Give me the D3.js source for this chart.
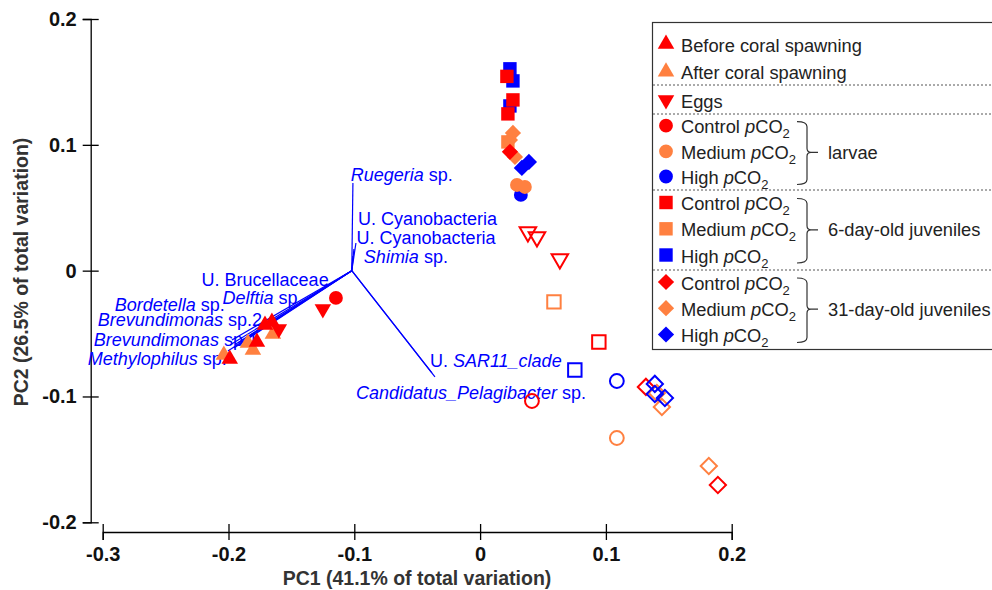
<!DOCTYPE html>
<html>
<head>
<meta charset="utf-8">
<script src="https://cdn.jsdelivr.net/npm/d3@7"></script>
<style>
  body { margin: 0; background: #fff; }
  svg { font-family: "Liberation Sans", Arial, sans-serif; }
</style>
</head>
<body>
<svg id="pca" width="992" height="590"></svg>
<script>
// ---- data (PC1, PC2) ----
const beforeSpawn = [[-0.199, -0.0702], [-0.171, -0.0432], [-0.1655, -0.0408], [-0.1774, -0.0567]];
const afterSpawn = [[-0.2037, -0.067], [-0.1846, -0.0575], [-0.1806, -0.063], [-0.1647, -0.0503]];
const eggsFilled = [[-0.125, -0.0304], [-0.16, -0.0463]];
const eggsOpen = [[0.038, 0.0308], [0.0452, 0.0268], [0.0634, 0.0093]];

const larvaeControl = [[-0.1146, -0.0217]];
const larvaeMedium = [[0.0293, 0.0681], [0.0356, 0.0665]];
const larvaeHigh = [[0.0324, 0.0602]];
const larvaeControlOpen = [[0.0412, -0.1036]];
const larvaeMediumOpen = [[0.1087, -0.133]];
const larvaeHighOpen = [[0.1087, -0.0877]];

const juv6Control = [[0.0213, 0.1544], [0.0261, 0.1357], [0.0221, 0.1246]];
const juv6Medium = [[0.0221, 0.1023]];
const juv6High = [[0.0237, 0.1604], [0.0261, 0.1508], [0.0237, 0.1309]];
const juv6ControlOpen = [[0.0944, -0.0567]];
const juv6MediumOpen = [[0.0587, -0.0248]];
const juv6HighOpen = [[0.0753, -0.0789]];

const juv31Control = [[0.0237, 0.0944]];
const juv31Medium = [[0.0261, 0.1094], [0.0237, 0.1039], [0.0277, 0.0904]];
const juv31High = [[0.0388, 0.0864], [0.0332, 0.0816]];
const juv31ControlOpen = [[0.1318, -0.0924], [0.189, -0.1703]];
const juv31MediumOpen = [[0.1405, -0.0972], [0.1445, -0.1083], [0.1818, -0.1552]];
const juv31HighOpen = [[0.1389, -0.09], [0.1389, -0.098], [0.1469, -0.1012]];

// loading vectors
const vectorOrigin = [-0.102, 0.0];
const taxa = ["Ruegeria", "U. Cyanobacteria", "U. Cyanobacteria", "Shimia", "U. Brucellaceae", "Delftia",
  "Bordetella", "Brevundimonas sp.2", "Brevundimonas sp.1", "Methylophilus", "U. SAR11_clade", "Candidatus_Pelagibacter"];
const vectorEnds = [[-0.1011, 0.0697], [-0.0987, 0.022], [-0.1003, 0.0172], [-0.1011, 0.0116],
  [-0.1973, -0.0551], [-0.1941, -0.0583], [-0.1989, -0.0591], [-0.1925, -0.0575],
  [-0.1957, -0.0614], [-0.2005, -0.0638], [-0.0359, -0.0845], [-0.0383, -0.0813]];

const xTicks = [-0.3, -0.2, -0.1, 0, 0.1, 0.2];
const yTicks = [-0.2, -0.1, 0, 0.1, 0.2];

// label layout for the vectors: [pieces], anchor point (data units), text-anchor
const taxonLabels = [
  {parts: [["Ruegeria", 1], [" sp.", 0]], at: [-0.1029, 0.0713], anchor: "start"},
  {parts: [["U. Cyanobacteria", 0]], at: [-0.0971, 0.0363], anchor: "start"},
  {parts: [["U. Cyanobacteria", 0]], at: [-0.0982, 0.0212], anchor: "start"},
  {parts: [["Shimia", 1], [" sp.", 0]], at: [-0.0924, 0.0061], anchor: "start"},
  {parts: [["U. Brucellaceae", 0]], at: [-0.2214, -0.0122], anchor: "start"},
  {parts: [["Delftia", 1], [" sp.", 0]], at: [-0.2047, -0.0265], anchor: "start"},
  {parts: [["Bordetella", 1], [" sp.", 0]], at: [-0.2029, -0.032], anchor: "end"},
  {parts: [["Brevundimonas", 1], [" sp.2", 0]], at: [-0.1734, -0.0439], anchor: "end"},
  {parts: [["Brevundimonas", 1], [" sp.1", 0]], at: [-0.1766, -0.0599], anchor: "end"},
  {parts: [["Methylophilus", 1], [" sp.", 0]], at: [-0.2013, -0.075], anchor: "end"},
  {parts: [["U. ", 0], ["SAR11_clade", 1]], at: [-0.0399, -0.0765], anchor: "start"},
  {parts: [["Candidatus_Pelagibacter", 1], [" sp.", 0]], at: [-0.0987, -0.102], anchor: "start"}
];

const RED = "#ff0000", ORANGE = "#ff8040", BLUE = "#0000ff";

const svg = d3.select("#pca");

const x = d3.scaleLinear().domain([-0.3, 0.2]).range([102.7, 731.7]);
const y = d3.scaleLinear().domain([-0.2, 0.2]).range([522.3, 19]);

// Axes
const yAxis = svg.append("g")
  .attr("transform", "translate(90.7,0)")
  .call(d3.axisLeft(y).tickValues(yTicks).tickSizeOuter(0).tickSize(8).tickPadding(6)
    .tickFormat(d => d === 0 ? "0" : String(d)));
yAxis.selectAll(".tick line").attr("x1", 8).attr("x2", -8).attr("stroke-width", 1.3);
yAxis.select(".domain").attr("stroke-width", 1.3);
yAxis.selectAll("text").attr("font-size", 20).attr("font-weight", "bold").attr("fill", "#111");

const xAxis = svg.append("g")
  .attr("transform", "translate(0,532)")
  .call(d3.axisBottom(x).tickValues(xTicks).tickSizeOuter(0).tickSize(8).tickPadding(7)
    .tickFormat(d => d === 0 ? "0" : String(d)));
xAxis.selectAll(".tick line").attr("y1", -8).attr("y2", 8).attr("stroke-width", 1.3);
xAxis.select(".domain").attr("stroke-width", 1.3);
xAxis.selectAll("text").attr("font-size", 20).attr("font-weight", "bold").attr("fill", "#111");

svg.append("text")
  .attr("x", 417).attr("y", 585)
  .attr("text-anchor", "middle")
  .attr("font-size", 19.5).attr("font-weight", "bold").attr("fill", "#333")
  .text("PC1 (41.1% of total variation)");

svg.append("text")
  .attr("transform", "translate(28,272) rotate(-90)")
  .attr("text-anchor", "middle")
  .attr("font-size", 19.5).attr("font-weight", "bold").attr("fill", "#333")
  .text("PC2 (26.5% of total variation)");

// Vectors
svg.append("g").selectAll("line")
  .data(vectorEnds)
  .enter()
  .append("line")
  .attr("x1", x(vectorOrigin[0])).attr("y1", y(vectorOrigin[1]))
  .attr("x2", d => x(d[0])).attr("y2", d => y(d[1]))
  .attr("stroke", BLUE).attr("stroke-width", 1.2);

const lab = svg.append("g").selectAll("text")
  .data(taxonLabels)
  .enter()
  .append("text")
  .attr("x", d => x(d.at[0])).attr("y", d => y(d.at[1]))
  .attr("text-anchor", d => d.anchor)
  .attr("font-size", 18).attr("fill", BLUE);
lab.each(function(d) {
  const t = d3.select(this);
  d.parts.forEach(p => t.append("tspan").attr("font-style", p[1] ? "italic" : "normal").text(p[0]));
});

// Markers
const sym = {
  up: d3.symbol().type(d3.symbolTriangle).size(118)(),
  down: d3.symbol().type(d3.symbolTriangle).size(118)(),
  circle: d3.symbol().type(d3.symbolCircle).size(150)(),
  square: d3.symbol().type(d3.symbolSquare).size(180)(),
  diamond: d3.symbol().type(d3.symbolSquare).size(132)()
};
const rot = {up: 0, down: 180, circle: 0, square: 0, diamond: 45};

function drawSeries(data, shape, color, open) {
  svg.append("g").selectAll("path")
    .data(data)
    .enter()
    .append("path")
    .attr("d", sym[shape])
    .attr("transform", d => `translate(${x(d[0])},${y(d[1])}) rotate(${rot[shape]})`)
    .attr("fill", open ? "none" : color)
    .attr("stroke", open ? color : "none")
    .attr("stroke-width", open ? 2 : 0);
}

drawSeries(eggsOpen, "down", RED, true);
drawSeries(juv6MediumOpen, "square", ORANGE, true);
drawSeries(juv6ControlOpen, "square", RED, true);
drawSeries(juv6HighOpen, "square", BLUE, true);
drawSeries(larvaeHighOpen, "circle", BLUE, true);
drawSeries(larvaeControlOpen, "circle", RED, true);
drawSeries(larvaeMediumOpen, "circle", ORANGE, true);
drawSeries(juv31ControlOpen, "diamond", RED, true);
drawSeries(juv31MediumOpen, "diamond", ORANGE, true);
drawSeries(juv31HighOpen, "diamond", BLUE, true);

drawSeries(afterSpawn, "up", ORANGE, false);
drawSeries(beforeSpawn, "up", RED, false);
drawSeries(eggsFilled, "down", RED, false);
drawSeries(larvaeControl, "circle", RED, false);
drawSeries(larvaeHigh, "circle", BLUE, false);
drawSeries(larvaeMedium, "circle", ORANGE, false);
drawSeries(juv6High, "square", BLUE, false);
drawSeries(juv6Control, "square", RED, false);
drawSeries(juv6Medium, "square", ORANGE, false);
drawSeries(juv31Medium, "diamond", ORANGE, false);
drawSeries(juv31Control, "diamond", RED, false);
drawSeries(juv31High, "diamond", BLUE, false);

// Legend
const legendRows = [
  {shape: "up", color: RED, label: "Before coral spawning"},
  {shape: "up", color: ORANGE, label: "After coral spawning"},
  {shape: "down", color: RED, label: "Eggs"},
  {shape: "circle", color: RED, level: "Control"},
  {shape: "circle", color: ORANGE, level: "Medium"},
  {shape: "circle", color: BLUE, level: "High"},
  {shape: "square", color: RED, level: "Control"},
  {shape: "square", color: ORANGE, level: "Medium"},
  {shape: "square", color: BLUE, level: "High"},
  {shape: "diamond", color: RED, level: "Control"},
  {shape: "diamond", color: ORANGE, level: "Medium"},
  {shape: "diamond", color: BLUE, level: "High"}
];
const legendGroups = ["larvae", "6-day-old juveniles", "31-day-old juveniles"];
const rowY = [45, 72.7, 101, 126.7, 152.3, 177.5, 203.5, 229.8, 256, 283, 309.2, 335.5];
const sepY = [85, 114, 190, 270];

const leg = svg.append("g");
leg.append("rect")
  .attr("x", 652.5).attr("y", 22.5).attr("width", 360).attr("height", 327)
  .attr("fill", "#fff").attr("stroke", "#333").attr("stroke-width", 1.2);
leg.selectAll("line.sep")
  .data(sepY)
  .enter()
  .append("line")
  .attr("x1", 653).attr("x2", 992)
  .attr("y1", d => d).attr("y2", d => d)
  .attr("stroke", "#555").attr("stroke-width", 1).attr("stroke-dasharray", "2,2");

leg.selectAll("path.mk")
  .data(legendRows)
  .enter()
  .append("path")
  .attr("d", d => sym[d.shape])
  .attr("transform", (d, i) => `translate(666,${rowY[i] - 1}) rotate(${rot[d.shape]})`)
  .attr("fill", d => d.color);

leg.selectAll("text.lab")
  .data(legendRows)
  .enter()
  .append("text")
  .attr("x", 681).attr("y", (d, i) => rowY[i] + 6.5)
  .attr("font-size", 18.3).attr("fill", "#222")
  .each(function(d) {
    const t = d3.select(this);
    if (d.label) { t.text(d.label); return; }
    t.append("tspan").text(d.level + " ");
    t.append("tspan").attr("font-style", "italic").text("p");
    t.append("tspan").text("CO");
    t.append("tspan").attr("font-size", 13).attr("dy", 5).text("2");
  });

legendGroups.forEach((g, k) => {
  const top = rowY[3 + k * 3] - 5, mid = rowY[4 + k * 3], bot = rowY[5 + k * 3] + 7;
  leg.append("path")
    .attr("d", `M797,${top} Q807,${top} 807,${top + 5} L807,${mid - 4} Q807,${mid} 811,${mid}` +
      ` L818,${mid} M811,${mid} Q807,${mid} 807,${mid + 4} L807,${bot - 5} Q807,${bot} 797,${bot}`)
    .attr("fill", "none").attr("stroke", "#333").attr("stroke-width", 1.2);
  leg.append("text")
    .attr("x", 828).attr("y", mid + 6.5)
    .attr("font-size", 18.3).attr("fill", "#222")
    .text(g);
});
</script>
</body>
</html>
